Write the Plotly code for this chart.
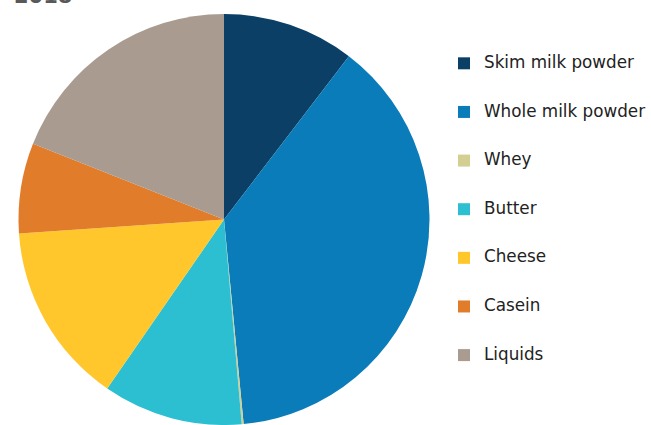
import plotly.graph_objects as go

# Dairy product shares, 2018 (percent)
categories = ["Skim milk powder", "Whole milk powder", "Whey", "Butter",
              "Cheese", "Casein", "Liquids"]
shares = [10.4, 38.1, 0.15, 11.0, 14.3, 7.1, 19.0]
colors = ["#0B3F65", "#0A7CBA", "#D3CF92", "#2CBFD1",
          "#FFC72C", "#E07C2A", "#A99B8F"]
title_text = "2018"

W, H = 651, 425
M_TOP = 14

# Legend entries: larger label text inside a taller legend row
legend_labels = ["<br><span style='font-size:16.8px'>%s</span><br>" % c for c in categories]

fig = go.Figure(
    go.Pie(
        labels=legend_labels,
        values=shares,
        marker=dict(colors=colors, line=dict(width=0)),
        sort=False,
        direction="clockwise",
        rotation=0,
        textinfo="none",
        hovertemplate="%{customdata}: %{value}%<extra></extra>",
        customdata=categories,
        domain=dict(x=[0, 448 / W], y=[0, 1]),
    )
)

fig.add_annotation(
    text="<b>%s</b>" % title_text,
    xref="paper", yref="paper",
    x=12 / W, y=1,
    xanchor="left", yanchor="bottom",
    yshift=4,
    showarrow=False,
    font=dict(family="DejaVu Sans", size=21, color="#595959"),
)

fig.update_layout(
    width=W, height=H,
    margin=dict(l=0, r=0, t=M_TOP, b=0),
    paper_bgcolor="white",
    plot_bgcolor="white",
    font=dict(family="DejaVu Sans", color="#222222"),
    legend=dict(
        x=444 / W, xanchor="left",
        y=1 - (34 - M_TOP) / (H - M_TOP), yanchor="top",
        font=dict(family="DejaVu Sans", size=11.7, color="#222222"),
        bgcolor="rgba(0,0,0,0)",
        traceorder="normal",
    ),
)

fig.write_html("out.html")
